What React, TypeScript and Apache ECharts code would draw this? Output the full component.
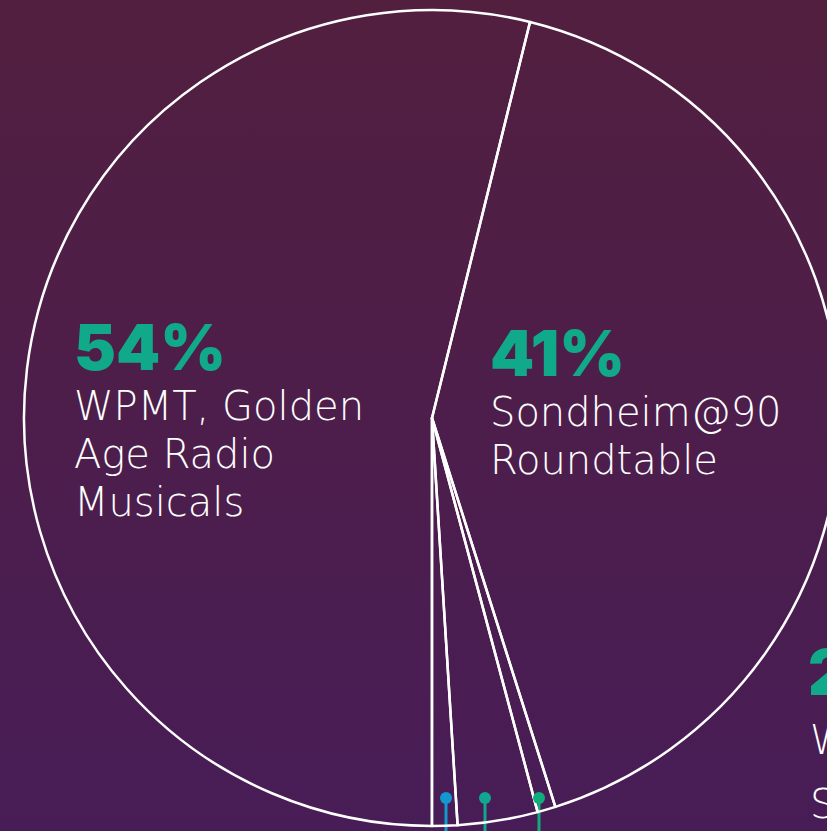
import React, { useEffect, useRef } from "react";
import * as echarts from "echarts";

const sliceNames = [
  "Sondheim@90 Roundtable",
  "Other program A",
  "Other program B",
  "Other program C",
  "WPMT, Golden Age Radio Musicals",
];
const sliceValues = [41.25, 0.72, 3.17, 1.0, 53.86];
const labelLines: string[][] = [
  ["Sondheim@90", "Roundtable"],
  [],
  [],
  [],
  ["WPMT, Golden", "Age Radio", "Musicals"],
];
const dotColors = ["", "#11ac7b", "#10a68f", "#1399cf"];
const dotX = [0, 539, 485, 446];

export default function App() {
  const ref = useRef<HTMLDivElement>(null);
  useEffect(() => {
    if (!ref.current) return;
    const chart = echarts.init(ref.current, undefined, { renderer: "svg" });
    const rich = {
      p: {
        fontFamily: "Inter",
        fontWeight: 900,
        fontSize: 63,
        lineHeight: 70,
        color: "#10a98a",
      },
      n: {
        fontFamily: "DejaVu Sans",
        fontWeight: 200,
        fontSize: 40,
        lineHeight: 48,
        color: "#ffffff",
      },
    };
    const data = sliceNames.map((name, i) => {
      const big = labelLines[i].length > 0;
      return {
        name,
        value: sliceValues[i],
        label: big
          ? {
              show: true,
              position: "inside",
              formatter: (p: any) =>
                `{p|${Math.round(p.percent)}%}\n` +
                labelLines[i].map((l) => `{n|${l}}`).join("\n"),
              rich,
            }
          : {
              show: true,
              position: "outside",
              formatter: " ",
              fontSize: 1,
              backgroundColor: dotColors[i],
              borderRadius: 6,
              width: 12,
              height: 12,
              padding: 0,
            },
        labelLine: big
          ? { show: false }
          : { show: true, lineStyle: { color: dotColors[i], width: 3 } },
      };
    });
    chart.setOption({
      animation: false,
      backgroundColor: new echarts.graphic.LinearGradient(0, 0, 0, 1, [
        { offset: 0, color: "#521f3f" },
        { offset: 1, color: "#481d57" },
      ]),
      graphic: [
        {
          type: "text",
          left: 808,
          top: 640,
          style: {
            text: "2%",
            fontFamily: "Inter",
            fontWeight: 900,
            fontSize: 63,
            fill: "#10a98a",
          },
        },
        {
          type: "text",
          left: 810,
          top: 720,
          style: {
            text: "WPMT",
            fontFamily: "DejaVu Sans",
            fontWeight: 200,
            fontSize: 40,
            fill: "#ffffff",
          },
        },
        {
          type: "text",
          left: 810,
          top: 784,
          style: {
            text: "Sondheim",
            fontFamily: "DejaVu Sans",
            fontWeight: 200,
            fontSize: 40,
            fill: "#ffffff",
          },
        },
      ],
      series: [
        {
          type: "pie",
          center: [432, 418],
          radius: [0, 408],
          startAngle: 76.1,
          clockwise: true,
          avoidLabelOverlap: false,
          silent: true,
          itemStyle: {
            color: "rgba(0,0,0,0)",
            borderColor: "#ffffff",
            borderWidth: 2.5,
          },
          labelLayout: (params: any) => {
            const i = params.dataIndex;
            if (i === 4) return { x: 74, y: 312, align: "left", verticalAlign: "top" };
            if (i === 0) return { x: 490, y: 318, align: "left", verticalAlign: "top" };
            const x = dotX[i];
            return {
              x,
              y: 798,
              align: "center",
              verticalAlign: "middle",
              labelLinePoints: [
                [x, 798],
                [x, 840],
                [x, 860],
              ],
            };
          },
          data,
        },
      ],
    });
    return () => chart.dispose();
  }, []);
  return (
    <div
      ref={ref}
      style={{ position: "fixed", left: 0, top: 0, width: 827, height: 831 }}
    />
  );
}
